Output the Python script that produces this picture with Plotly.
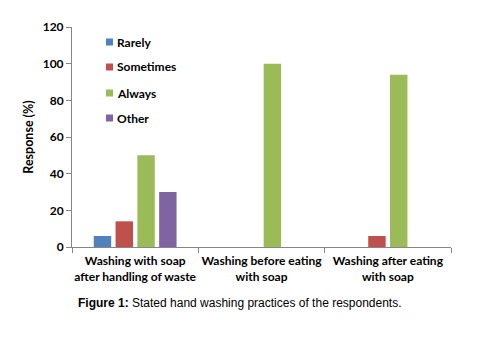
import plotly.graph_objects as go

categories = ["Washing with soap<br>after handling of waste",
              "Washing before eating<br>with soap",
              "Washing after eating<br>with soap"]
series_names = ["Rarely", "Sometimes", "Always", "Other"]
rarely = [6, 0, 0]
sometimes = [14, 0, 6]
always = [50, 100, 94]
other = [30, 0, 0]
colors = ["#4F81BD", "#C0504D", "#9BBB59", "#8064A2"]
y_ticks = [0, 20, 40, 60, 80, 100, 120]

font_family = "Lato, 'Open Sans', sans-serif"

fig = go.Figure()
for name, vals, col in zip(series_names, [rarely, sometimes, always, other], colors):
    fig.add_trace(go.Bar(name=name, x=categories, y=vals, marker_color=col,
                         marker_line_width=0, showlegend=False))

# manual legend (paper coordinates)
L, R, T, B = 72, 451, 27, 247
def px(x):
    return (x - L) / (R - L)
def py(y):
    return (B - y) / (B - T)

legend_y = [42, 67, 93, 118]
for name, col, yy in zip(series_names, colors, legend_y):
    fig.add_shape(type="rect", xref="paper", yref="paper",
                  x0=px(106), x1=px(113), y0=py(yy + 3.5), y1=py(yy - 3.5),
                  fillcolor=col, line_width=0)
    fig.add_annotation(text=name, xref="paper", yref="paper", x=px(115), y=py(yy),
                       xanchor="left", yanchor="middle", showarrow=False,
                       font=dict(family=font_family, size=12, weight="bold", color="black"))

fig.update_layout(
    width=481, height=346,
    margin=dict(l=L, r=481 - R, t=T, b=346 - B),
    paper_bgcolor="white", plot_bgcolor="white",
    barmode="group", bargap=0.31, bargroupgap=0.2,
    font=dict(family=font_family, size=12, color="black"),
    xaxis=dict(showline=True, linecolor="#868686", linewidth=1, automargin=False,
               ticks="outside", tickson="boundaries", ticklen=5, tickcolor="#868686",
               ticklabelstandoff=3, tickangle=0,
               tickfont=dict(size=12, family=font_family, weight="bold")),
    yaxis=dict(range=[0, 120], tickvals=y_ticks, showline=True, linecolor="#868686",
               linewidth=1, ticks="outside", ticklen=5, tickcolor="#868686",
               showgrid=False, zeroline=False, automargin=False,
               tickfont=dict(size=12, family=font_family, weight="bold"),
               title=dict(text="Response (%)", font=dict(size=12.5, family=font_family, weight="bold"),
                          standoff=6)),
)

fig.add_annotation(text="<b>Figure 1:</b> Stated hand washing practices of the respondents.",
                   xref="paper", yref="paper", x=px(240), y=py(303), xanchor="center", yanchor="middle",
                   showarrow=False,
                   font=dict(family="'Liberation Sans', Arial, sans-serif", size=12, color="black"))

fig.write_html("out.html")
